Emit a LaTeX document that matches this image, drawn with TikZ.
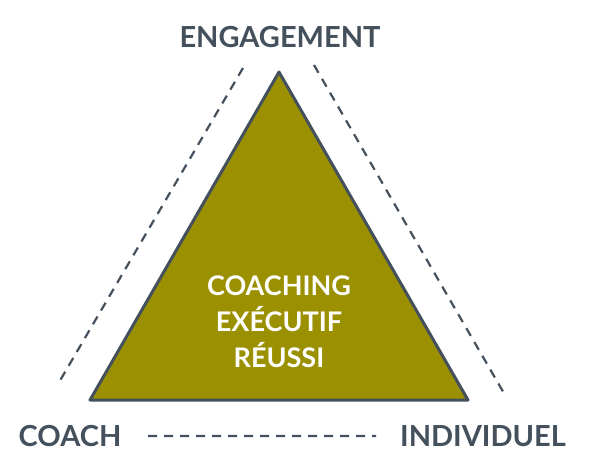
\documentclass[tikz,border=0pt]{standalone}
\usepackage{fontspec}
\setmainfont{Lato}
\usetikzlibrary{positioning}
\definecolor{slate}{HTML}{44505C}
\definecolor{olive}{HTML}{9A9000}
\begin{document}
\begin{tikzpicture}[x=1pt,y=-1pt,thin]
\tikzstyle{label}=[text=slate,font=\bfseries\fontsize{29}{30}\selectfont,inner sep=0pt]
\tikzstyle{guide}=[draw=slate,line width=2.2pt,dash pattern=on 9pt off 7pt]
\useasboundingbox (0,0) rectangle (600,464);

\coordinate (A) at (279,72);
\coordinate (B) at (90,400);
\coordinate (C) at (468,400);
\fill[olive] (A) -- (B) -- (C) -- cycle;
\draw[slate,line width=3pt,line join=round] (A) -- (B) -- (C) -- cycle;

\node[label] (E) at (280,37) {ENGAGEMENT};
\node[label] (K) at (70,436) {COACH};
\node[label] (I) at (483,436) {INDIVIDUEL};
\node[text=white,font=\bfseries\fontsize{27}{36}\selectfont,align=center] (M) at (279,322) {COACHING\\EXÉCUTIF\\RÉUSSI};

\coordinate (L1) at (243,68);
\coordinate (L2) at (58,384);
\coordinate (R1) at (314,65);
\coordinate (R2) at (505,395);
\coordinate (B1) at (148,436);
\coordinate (B2) at (376,436);
\path[guide]
(L1) -- (L2)
(R1) -- (R2)
(B1) -- (B2);
\end{tikzpicture}
\end{document}
